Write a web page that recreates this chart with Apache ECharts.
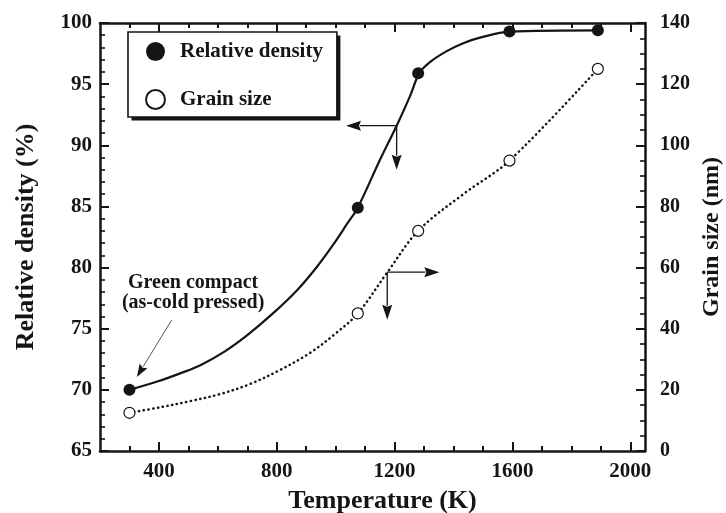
<!DOCTYPE html>
<html>
<head>
<meta charset="utf-8">
<script src="https://cdn.jsdelivr.net/npm/echarts@6/dist/echarts.min.js"></script>
<style>
  html, body { margin: 0; padding: 0; background: #fff; }
  #chart { width: 726px; height: 513px; }
</style>
</head>
<body>
<div id="chart"></div>
<script>
// Measured points: sintering temperature (K), relative density (%), grain size (nm)
const temperatures = [300, 1075, 1280, 1590, 1890];
const relativeDensity = [70.0, 84.9, 95.9, 99.3, 99.4];
const grainSize = [12.5, 45, 72, 95, 125];

// Guide-to-the-eye curves drawn through the measurements
const densityFitT = [300, 397, 472, 539, 624, 699, 787, 869, 936, 991, 1038, 1075, 1150, 1207, 1252, 1284, 1320, 1377, 1433, 1490, 1590, 1890];
const densityFitV = [70.0, 70.7, 71.35, 72.0, 73.15, 74.45, 76.25, 78.15, 80.05, 81.85, 83.55, 84.9, 88.8, 91.6, 94.0, 95.9, 96.8, 97.7, 98.35, 98.8, 99.3, 99.4];
const grainFitT = [300, 404, 505, 607, 709, 811, 913, 998, 1075, 1175, 1280, 1430, 1590, 1890];
const grainFitV = [12.5, 14.3, 16.3, 18.6, 21.9, 26.5, 32.1, 38.3, 45, 58.4, 72, 83.8, 95, 125];

// Temperature axis ticks
const tempMajorTicks = [400, 800, 1200, 1600, 2000];
const tempMinorTicks = [300, 500, 600, 700, 900, 1000, 1100, 1300, 1400, 1500, 1700, 1800, 1900];

const legendNames = ['Relative density', 'Grain size'];

const ink = '#151515';
const serif = '"Liberation Serif", "Times New Roman", Times, serif';
const tickFont = { fontFamily: serif, fontWeight: 'bold', fontSize: 21, color: ink };
const titleFont = { fontFamily: serif, fontWeight: 'bold', fontSize: 26, color: ink };
const plain = v => String(v);

const chart = echarts.init(document.getElementById('chart'), null, { renderer: 'canvas' });

function tempAxis(position, ticks, len, withLine, withLabels) {
  return {
    type: 'value', min: 200, max: 2050, position: position,
    axisLine: { show: withLine, onZero: false, lineStyle: { color: ink, width: 2.5 } },
    axisTick: { show: true, inside: true, length: len, customValues: ticks, lineStyle: { color: ink, width: 2 } },
    axisLabel: { show: withLabels, customValues: ticks, margin: 10, formatter: plain, ...tickFont },
    splitLine: { show: false }
  };
}

const bottomMajor = tempAxis('bottom', tempMajorTicks, 9, true, true);
bottomMajor.name = 'Temperature (K)';
bottomMajor.nameLocation = 'middle';
bottomMajor.nameGap = 37;
bottomMajor.nameTextStyle = { ...titleFont, padding: [0, 0, 0, 20] };

// Legend frame geometry (drop-shadowed box)
const legendLeft = 128, legendTop = 32;
const legendPad = [9, 15, 11, 17];
const iconSize = 19, rowGap = 27, textPad = 10;
const measure = document.createElement('canvas').getContext('2d');
measure.font = 'bold 21px ' + serif;
const textW = Math.max(...legendNames.map(n => measure.measureText(n).width));
const legendW = legendPad[3] + iconSize + 5 + textPad + textW + legendPad[1];
const legendH = legendPad[0] + iconSize * 2 + rowGap + legendPad[2];

const option = {
  animation: false,
  backgroundColor: '#fff',
  grid: { left: 100, right: 81, top: 23, bottom: 62, containLabel: false, outerBoundsMode: 'none' },
  legend: {
    data: legendNames,
    orient: 'vertical',
    left: legendLeft, top: legendTop,
    padding: legendPad,
    itemGap: rowGap,
    itemWidth: iconSize, itemHeight: iconSize,
    textStyle: { fontFamily: serif, fontWeight: 'bold', fontSize: 21, color: ink, lineHeight: 19, padding: [0, 0, 0, textPad] },
    selectedMode: false,
    z: 6
  },
  xAxis: [
    bottomMajor,
    tempAxis('bottom', tempMinorTicks, 5, false, false),
    tempAxis('top', tempMajorTicks, 9, true, false),
    tempAxis('top', tempMinorTicks, 5, false, false)
  ],
  yAxis: [
    {
      type: 'value', min: 65, max: 100, interval: 5, position: 'left',
      axisLine: { show: true, onZero: false, lineStyle: { color: ink, width: 2.5 } },
      axisTick: { show: true, inside: true, length: 9, lineStyle: { color: ink, width: 2 } },
      minorTick: { show: true, splitNumber: 5, length: 5, lineStyle: { color: ink, width: 1.6 } },
      axisLabel: { margin: 8, formatter: plain, ...tickFont },
      splitLine: { show: false },
      name: 'Relative density (%)', nameLocation: 'middle', nameRotate: 90, nameGap: 61,
      nameTextStyle: titleFont
    },
    {
      type: 'value', min: 0, max: 140, interval: 20, position: 'right',
      axisLine: { show: true, onZero: false, lineStyle: { color: ink, width: 2.5 } },
      axisTick: { show: true, inside: true, length: 9, lineStyle: { color: ink, width: 2 } },
      minorTick: { show: true, splitNumber: 4, length: 5, lineStyle: { color: ink, width: 1.6 } },
      axisLabel: { margin: 15, formatter: plain, ...tickFont, fontSize: 20 },
      splitLine: { show: false },
      name: 'Grain size (nm)', nameLocation: 'middle', nameRotate: 90, nameGap: 55,
      nameMoveOverlap: false,
      nameTextStyle: { ...titleFont, fontSize: 24 }
    }
  ],
  series: [
    {
      type: 'line', name: 'density fit', xAxisIndex: 0, yAxisIndex: 0,
      data: densityFitT.map((t, i) => [t, densityFitV[i]]),
      smooth: 0.35, symbol: 'none', silent: true,
      lineStyle: { color: ink, width: 2.2 }, z: 2
    },
    {
      type: 'line', name: 'grain fit', xAxisIndex: 0, yAxisIndex: 1,
      data: grainFitT.map((t, i) => [t, grainFitV[i]]),
      smooth: 0.35, symbol: 'none', silent: true,
      lineStyle: { color: ink, width: 2.5, type: [0.3, 4.5], cap: 'round' }, z: 2
    },
    {
      type: 'scatter', name: legendNames[0], xAxisIndex: 0, yAxisIndex: 0,
      data: temperatures.map((t, i) => [t, relativeDensity[i]]),
      symbol: 'circle', symbolSize: 12,
      itemStyle: { color: ink, opacity: 1 }, z: 4
    },
    {
      type: 'scatter', name: legendNames[1], xAxisIndex: 0, yAxisIndex: 1,
      data: temperatures.map((t, i) => [t, grainSize[i]]),
      symbol: 'circle', symbolSize: 11,
      itemStyle: { color: '#fff', borderColor: ink, borderWidth: 1.2, opacity: 1 }, z: 4
    }
  ]
};

chart.setOption(option);

// Annotation arrows placed in data coordinates
const onDensity = p => chart.convertToPixel({ xAxisIndex: 0, yAxisIndex: 0 }, p);
const onGrain = p => chart.convertToPixel({ xAxisIndex: 0, yAxisIndex: 1 }, p);

function arrow(from, to, opts) {
  const dx = to[0] - from[0], dy = to[1] - from[1];
  const d = Math.hypot(dx, dy);
  const ux = dx / d, uy = dy / d;
  const bx = to[0] - ux * opts.head, by = to[1] - uy * opts.head;
  const px = -uy * opts.half, py = ux * opts.half;
  return [
    { type: 'line', silent: true, z: 10,
      shape: { x1: from[0], y1: from[1], x2: bx + ux * 1, y2: by + uy * 1 },
      style: { stroke: opts.color, lineWidth: opts.width } },
    { type: 'polygon', silent: true, z: 10,
      shape: { points: [[to[0], to[1]], [bx + px, by + py], [bx + ux * 2, by + uy * 2], [bx - px, by - py]] },
      style: { fill: ink } }
  ];
}

const densCorner = onDensity([1207, 91.6]);
const grainCorner = onGrain([1175, 58.5]);
const mainArrow = { color: ink, width: 1.3, head: 15, half: 5 };

const elements = [
  // legend frame: offset shadow, then white box with thin border
  { type: 'rect', silent: true, z: 5,
    shape: { x: legendLeft + 3.5, y: legendTop + 3.5, width: legendW, height: legendH },
    style: { fill: ink } },
  { type: 'rect', silent: true, z: 5,
    shape: { x: legendLeft, y: legendTop, width: legendW, height: legendH },
    style: { fill: '#fff', stroke: ink, lineWidth: 1.6 } }
].concat(
  arrow(densCorner, onDensity([1035, 91.6]), mainArrow),
  arrow(densCorner, onDensity([1207, 88.0]), mainArrow),
  arrow(grainCorner, onGrain([1352, 58.5]), mainArrow),
  arrow(grainCorner, onGrain([1175, 42.9]), mainArrow),
  arrow(onDensity([443, 75.7]), onDensity([325, 71.05]), { color: '#555', width: 1, head: 13, half: 4.5 })
);

const noteAt = onDensity([516, 77.9]);
elements.push({
  type: 'text', silent: true, z: 10,
  x: noteAt[0], y: noteAt[1],
  style: {
    text: 'Green compact\n(as-cold pressed)',
    fontFamily: serif, fontWeight: 'bold', fontSize: 20, lineHeight: 20,
    fill: ink, align: 'center', verticalAlign: 'middle'
  }
});

chart.setOption({ graphic: { elements: elements } });
</script>
</body>
</html>
